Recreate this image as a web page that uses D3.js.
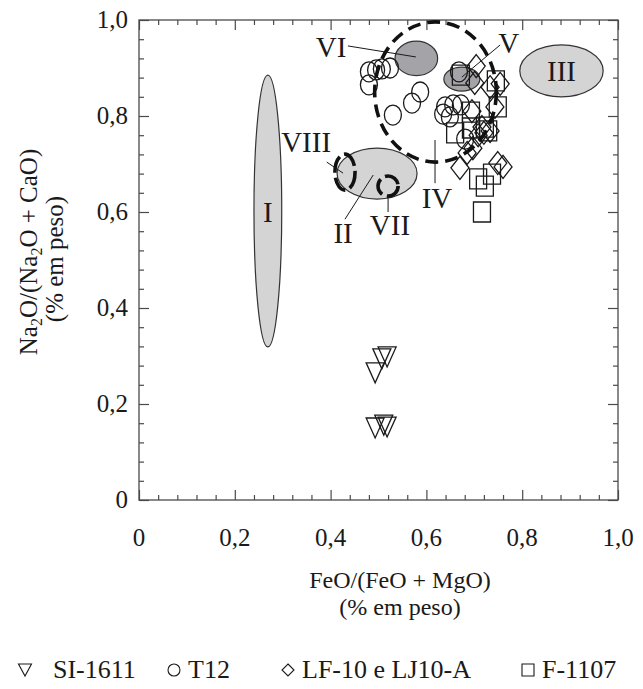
<!DOCTYPE html>
<html><head><meta charset="utf-8">
<script src="https://cdn.jsdelivr.net/npm/d3@7"></script>
<style>
body{margin:0;background:#fff;}
svg{display:block;}
text{font-family:"Liberation Serif","Times New Roman",Times,serif;}
</style>
</head><body>
<svg id="chart" width="643" height="689"></svg>
<script>
// ---------- data ----------
const majorTicks = [0, 0.2, 0.4, 0.6, 0.8, 1.0];
const tickLabels = ["0", "0,2", "0,4", "0,6", "0,8", "1,0"];
const minorStep = 0.04;
const xTitle = ["FeO/(FeO + MgO)", "(% em peso)"];
const legendNames = ["SI-1611", "T12", "LF-10 e LJ10-A", "F-1107"];

// SI-1611 (triangles) [FeO/(FeO+MgO), Na2O/(Na2O+CaO)]
const si1611 = [[0.518,0.298],[0.507,0.294],[0.493,0.265],[0.511,0.156],[0.518,0.152],[0.493,0.150]];
// T12 (circles)
const t12 = [[0.480,0.892],[0.495,0.896],[0.507,0.898],[0.524,0.900],[0.480,0.865],[0.587,0.850],
  [0.570,0.827],[0.530,0.802],[0.668,0.892],[0.639,0.819],[0.656,0.823],[0.672,0.823],
  [0.635,0.804],[0.649,0.798],[0.681,0.752]];
// LF-10 e LJ10-A (diamonds)
const lf10 = [[0.704,0.904],[0.701,0.869],[0.754,0.867],[0.733,0.860],[0.743,0.819],[0.695,0.810],
  [0.716,0.777],[0.708,0.760],[0.720,0.765],[0.733,0.769],[0.697,0.733],[0.685,0.723],
  [0.670,0.692],[0.749,0.702],[0.760,0.694]];
// F-1107 (squares)
const f1107 = [[0.672,0.885],[0.745,0.873],[0.749,0.819],[0.693,0.808],[0.722,0.777],[0.660,0.765],
  [0.693,0.775],[0.729,0.769],[0.708,0.669],[0.722,0.654],[0.737,0.679],[0.716,0.600]];

// Fields: name, cx, cy, rx, ry (data units), kind
const fields = [
  {name:"I",   cx:0.269, cy:0.602, rx:0.029, ry:0.283, kind:"light"},
  {name:"II",  cx:0.497, cy:0.680, rx:0.0835,ry:0.053, kind:"light"},
  {name:"III", cx:0.882, cy:0.894, rx:0.087, ry:0.054, kind:"light"},
  {name:"VI",  cx:0.579, cy:0.920, rx:0.0445,ry:0.036, kind:"dark"},
  {name:"V",   cx:0.674, cy:0.877, rx:0.0376,ry:0.025, kind:"dark"},
  {name:"IV",  cx:0.619, cy:0.850, rx:0.127, ry:0.146, kind:"dashBig"},
  {name:"VIII",cx:0.430, cy:0.683, rx:0.021, ry:0.0375,kind:"dashSmall"},
  {name:"VII", cx:0.520, cy:0.654, rx:0.021, ry:0.021, kind:"dashSmall"}
];
// Labels: text, x, y (data), anchor ; leader line x1,y1,x2,y2 (data)
const labels = [
  {t:"VI",  x:0.401, y:0.923, a:"middle", line:[0.436,0.946,0.578,0.923]},
  {t:"V",   x:0.772, y:0.931, a:"middle", line:[0.754,0.948,0.674,0.881]},
  {t:"III", x:0.882, y:0.873, a:"middle", line:null},
  {t:"I",   x:0.269, y:0.579, a:"middle", line:null},
  {t:"VIII",x:0.401, y:0.725, a:"end",    line:[0.392,0.704,0.426,0.681]},
  {t:"II",  x:0.426, y:0.535, a:"middle", line:[0.430,0.585,0.489,0.677]},
  {t:"VII", x:0.524, y:0.552, a:"middle", line:[0.520,0.633,0.520,0.600]},
  {t:"IV",  x:0.622, y:0.608, a:"middle", line:[0.618,0.750,0.618,0.660]}
];

// ---------- layout ----------
const svg = d3.select("#chart");
const x = d3.scaleLinear().domain([0,1]).range([139,618]);
const y = d3.scaleLinear().domain([0,1]).range([500,20]);
const ink = "#1a1a1a", frame = "#4a4a4a";
const FONT = "'Liberation Serif','Times New Roman',Times,serif";
const minorTicks = d3.range(0, 1.0001, minorStep).filter((d,i)=> i%5!==0);

// frame
svg.append("rect").attr("x",x(0)).attr("y",y(1)).attr("width",x(1)-x(0)).attr("height",y(0)-y(1))
  .attr("fill","none").attr("stroke",frame).attr("stroke-width",1.3);

function ax(gen, tr, vals, size){
  const g = svg.append("g").attr("transform",tr)
    .call(gen.tickValues(vals).tickSize(size).tickFormat(""));
  g.select(".domain").remove();
  g.selectAll("line").attr("stroke",frame).attr("stroke-width",1.2);
}
[[minorTicks,-5],[majorTicks,-10]].forEach(([v,s])=>{
  ax(d3.axisBottom(x), `translate(0,${y(0)})`, v, s);
  ax(d3.axisTop(x), `translate(0,${y(1)})`, v, s);
  ax(d3.axisLeft(y), `translate(${x(0)},0)`, v, s);
  ax(d3.axisRight(y), `translate(${x(1)},0)`, v, s);
});

// tick labels
svg.append("g").selectAll("text").data(majorTicks).join("text")
  .attr("x",d=>x(d)).attr("y",546).attr("text-anchor","middle").attr("font-family",FONT)
  .attr("font-size",25).attr("fill",ink).text((d,i)=>tickLabels[i]);
svg.append("g").selectAll("text").data(majorTicks).join("text")
  .attr("x",128).attr("y",d=>y(d)+8).attr("text-anchor","end").attr("font-family",FONT)
  .attr("font-size",25).attr("fill",ink).text((d,i)=>tickLabels[i]);

// axis titles
svg.append("text").attr("x",400).attr("y",588).attr("text-anchor","middle").attr("font-family",FONT)
  .attr("font-size",24).attr("fill",ink).text(xTitle[0]);
svg.append("text").attr("x",400).attr("y",615).attr("text-anchor","middle").attr("font-family",FONT)
  .attr("font-size",24).attr("fill",ink).text(xTitle[1]);

const yt = svg.append("text").attr("transform","translate(37,252) rotate(-90)").attr("font-family",FONT)
  .attr("text-anchor","middle").attr("font-size",25).attr("fill",ink);
yt.append("tspan").text("Na");
yt.append("tspan").attr("font-size",16).attr("dy",5).text("2");
yt.append("tspan").attr("dy",-5).text("O/(Na");
yt.append("tspan").attr("font-size",16).attr("dy",5).text("2");
yt.append("tspan").attr("dy",-5).text("O + CaO)");
svg.append("text").attr("transform","translate(63,259) rotate(-90)").attr("font-family",FONT)
  .attr("text-anchor","middle").attr("font-size",25).attr("fill",ink).text(xTitle[1]);

// filled fields
const fillOf = {light:"#d4d4d4", dark:"#a4a4a8"};
svg.append("g").selectAll("ellipse").data(fields.filter(f=>f.kind==="light"||f.kind==="dark")).join("ellipse")
  .attr("cx",d=>x(d.cx)).attr("cy",d=>y(d.cy))
  .attr("rx",d=>x(d.rx)-x(0)).attr("ry",d=>y(0)-y(d.ry))
  .attr("fill",d=>fillOf[d.kind]).attr("stroke","#333").attr("stroke-width",1.2);

// symbols
const sym = {
  tri: (cx,cy,w,h)=>`M${cx-w/2},${cy-h/2}L${cx+w/2},${cy-h/2}L${cx},${cy+h/2}Z`,
  dia: (cx,cy,w,h)=>`M${cx},${cy-h/2}L${cx+w/2},${cy}L${cx},${cy+h/2}L${cx-w/2},${cy}Z`,
  sq:  (cx,cy,w,h)=>`M${cx-w/2},${cy-h/2}h${w}v${h}h${-w}Z`
};
const pts = svg.append("g").attr("fill","none").attr("stroke",ink).attr("stroke-width",1.3);
pts.selectAll(".c").data(t12).join("ellipse").attr("class","c")
  .attr("cx",d=>x(d[0])).attr("cy",d=>y(d[1])).attr("rx",8.5).attr("ry",10);
pts.selectAll(".s").data(f1107).join("path").attr("class","s")
  .attr("d",d=>sym.sq(x(d[0]),y(d[1]),17,20));
pts.selectAll(".d").data(lf10).join("path").attr("class","d")
  .attr("d",d=>sym.dia(x(d[0]),y(d[1]),18,23));
pts.selectAll(".t").data(si1611).join("path").attr("class","t")
  .attr("d",d=>sym.tri(x(d[0]),y(d[1]),18,20));

// dashed fields
const dashG = svg.append("g").attr("fill","none").attr("stroke","#111").attr("stroke-width",3.6);
dashG.selectAll("ellipse").data(fields.filter(f=>f.kind.startsWith("dash"))).join("ellipse")
  .attr("cx",d=>x(d.cx)).attr("cy",d=>y(d.cy))
  .attr("rx",d=>x(d.rx)-x(0)).attr("ry",d=>y(0)-y(d.ry))
  .attr("stroke-dasharray",d=>d.kind==="dashBig"?"13,7":"17,5");

// leader lines & labels
svg.append("g").selectAll("line").data(labels.filter(l=>l.line)).join("line")
  .attr("x1",d=>x(d.line[0])).attr("y1",d=>y(d.line[1]))
  .attr("x2",d=>x(d.line[2])).attr("y2",d=>y(d.line[3]))
  .attr("stroke",ink).attr("stroke-width",1);
svg.append("g").selectAll("text").data(labels).join("text")
  .attr("x",d=>x(d.x)).attr("y",d=>y(d.y)).attr("text-anchor",d=>d.a).attr("font-family",FONT)
  .attr("font-size",29).attr("fill",ink).text(d=>d.t);

// legend
const legX = [25, 174, 288, 528];
const legShapes = ["tri","circ","dia","sq"];
const lg = svg.append("g");
legendNames.forEach((n,i)=>{
  const cx = legX[i], cy = 670;
  if (legShapes[i]==="circ") lg.append("circle").attr("cx",cx).attr("cy",cy).attr("r",6);
  else {
    const w = legShapes[i]==="tri"?13:12;
    const h = 12;
    lg.append("path").attr("d",sym[legShapes[i]](cx,cy,w,h));
  }
  lg.append("text").attr("x",cx+(i===0?28:14)).attr("y",678).attr("font-size",26).attr("font-family",FONT)
    .attr("fill",ink).attr("stroke","none").text(n);
});
lg.selectAll("circle,path").attr("fill","none").attr("stroke",ink).attr("stroke-width",1.1);
</script>
</body></html>
